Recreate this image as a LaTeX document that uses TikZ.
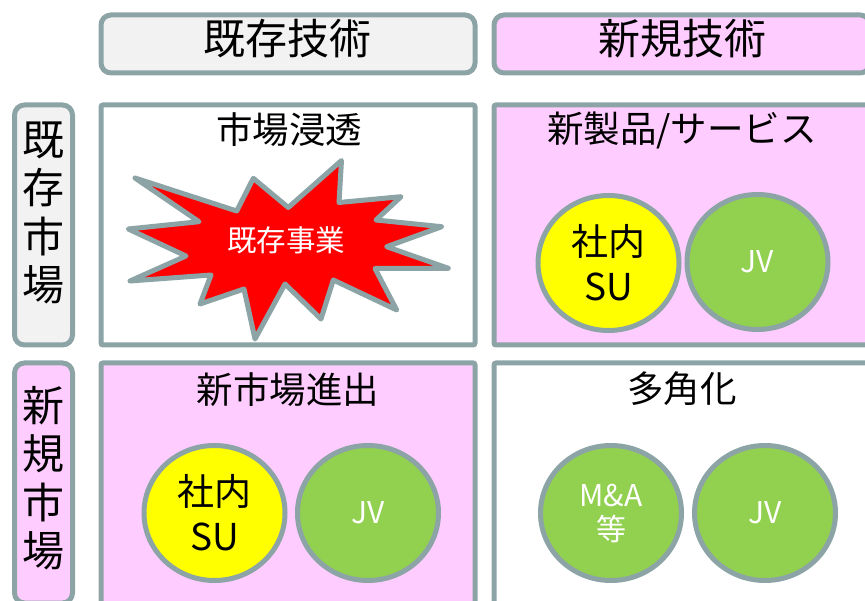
\documentclass[tikz,border=0pt]{standalone}
\usepackage{fontspec}
\setmainfont{Noto Sans CJK JP}
\usetikzlibrary{shapes.geometric}
\definecolor{bd}{HTML}{8DA4A7}
\definecolor{pk}{HTML}{FFCCFF}
\definecolor{lg}{HTML}{F2F2F2}
\definecolor{gr}{HTML}{92D050}
\definecolor{yl}{HTML}{FFFF00}
\tikzset{
  hdr/.style={draw=bd, line width=5pt, rounded corners=10pt, inner sep=0pt},
  cell/.style={draw=bd, line width=5pt, rounded corners=2pt, inner sep=0pt},
  ttl/.style={font=\fontsize{42}{48}\selectfont, inner sep=0pt, align=center},
  ctl/.style={font=\fontsize{36.5}{42}\selectfont, inner sep=0pt},
  rowtxt/.style={font=\fontsize{42}{48.5}\selectfont, inner sep=0pt, align=center},
  circ/.style={ellipse, draw=bd, line width=5pt, minimum width=141pt, minimum height=135pt, inner sep=0pt, align=center},
  su/.style={circ, fill=yl, font=\fontsize{37}{45}\selectfont},
  jv/.style={circ, fill=gr, text=white, font=\fontsize{30}{34}\selectfont},
}
\begin{document}
\begin{tikzpicture}[x=1pt,y=-1pt]
\useasboundingbox (0,0) rectangle (865,601);
\clip (0,0) rectangle (865,601);
% column headers
\node (h1) [hdr, fill=lg, minimum width=374pt, minimum height=58pt] at (288,44) {};
\node (h2) [hdr, fill=pk, minimum width=376pt, minimum height=58pt] at (682,44) {};
\node (h1t) [ttl] at (287,39) {既存技術};
\node (h2t) [ttl] at (682,39) {新規技術};
% row labels
\node (r1) [hdr, fill=lg, minimum width=58pt, minimum height=240pt] at (43.5,225) {};
\node (r2) [hdr, fill=pk, minimum width=58pt, minimum height=240pt] at (43.5,483) {};
\node (r1t) [rowtxt] at (43.5,213) {既\\存\\市\\場};
\node (r2t) [rowtxt] at (43.5,478) {新\\規\\市\\場};
% cells
\node (c11) [cell, fill=white, minimum width=374pt, minimum height=240pt] at (288,225) {};
\node (c12) [cell, fill=pk, minimum width=376pt, minimum height=240pt] at (682,225) {};
\node (c21) [cell, fill=pk, minimum width=374pt, minimum height=250pt] at (288,488) {};
\node (c22) [cell, fill=white, minimum width=376pt, minimum height=250pt] at (682,488) {};
\node (c11t) [ctl] at (289,130) {市場浸透};
\node (c12t) [ctl] at (682,130) {新製品/サービス};
\node (c21t) [ctl] at (288,390) {新市場進出};
\node (c22t) [ctl] at (682,389) {多角化};
% explosion star
\draw[draw=bd, fill=red, line width=5pt, line join=round]
  (135,178) -- (236.7,211) -- (253.3,178.3) -- (288.3,207.5) -- (341.5,160.5)
  -- (339,202.5) -- (401,196.7) -- (376,220) -- (441.7,226.7) -- (386.7,246.7)
  -- (448.3,268.3) -- (375,268.5) -- (396.7,310) -- (333.3,280) -- (321,319)
  -- (285,284) -- (255,339) -- (244,289) -- (200,304) -- (211,275)
  -- (130,281) -- (186,256) -- (128.3,229) -- (199,221.7) -- cycle;
\node (star) [text=white, font=\fontsize{29.5}{32}\selectfont, inner sep=0pt] at (286,240) {既存事業};
% circles
\node (su1) [su] at (608.5,263) {社内\\SU};
\node (jv1) [jv] at (757.5,262) {JV};
\node (su2) [su] at (214.5,513) {社内\\SU};
\node (jv2) [jv] at (368,513) {JV};
\node (ma) [jv] at (611,513) {M\&A\\等};
\node (jv3) [jv] at (765,513) {JV};
\end{tikzpicture}
\end{document}
